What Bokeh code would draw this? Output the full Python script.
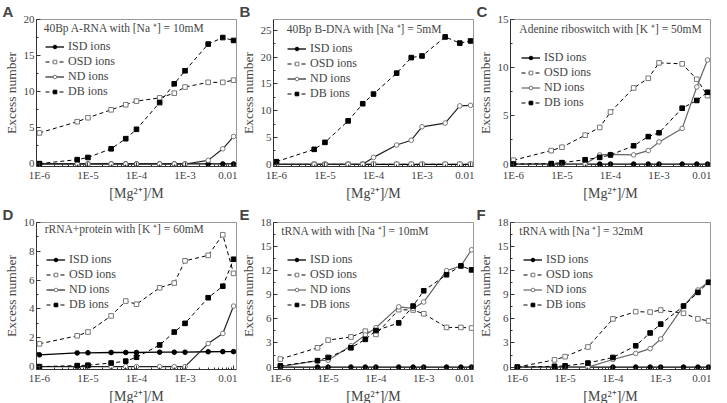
from bokeh.plotting import figure
from bokeh.models import FixedTicker, Range1d, Label, Legend, CustomJSTickFormatter
from bokeh.layouts import column, row
from bokeh.embed import file_html
from bokeh.resources import INLINE

# ---- data ----
mg = [1e-6, 6e-6, 1e-5, 3e-5, 6e-5, 1e-4, 3e-4, 6e-4, 1e-3, 3e-3, 6e-3, 1e-2]
mg_f = [1e-6, 6e-6, 1e-5, 3e-5, 1e-4, 3e-4, 6e-4, 1e-3, 3e-3, 6e-3, 1e-2]
xticks = [1e-6, 1e-5, 1e-4, 1e-3, 1e-2]
xtick_labels = ["1E-6", "1E-5", "1E-4", "1E-3", "0.01"]

a_isd = [0, 0, 0, 0, 0, 0, 0, 0, 0, 0, 0, 0]
a_osd = [4.3, 5.85, 6.4, 7.5, 8.2, 8.7, 9.15, 9.8, 10.65, 11.3, 11.3, 11.6]
a_nd = [0, 0, 0, 0, 0, 0, 0, 0, 0, 0.5, 2.1, 3.8]
a_db = [0.05, 0.6, 0.9, 2.1, 3.5, 4.8, 8.5, 11.1, 12.9, 16.6, 17.5, 17.1]

b_isd = [0, 0, 0, 0, 0, 0, 0, 0, 0, 0, 0, 0]
b_osd = [0, 0, 0, 0, 0, 0, 0, 0, 0, 0, 0, 0]
b_nd = [0, 0, 0, 0, 0, 1.3, 3.6, 4.5, 7.0, 7.7, 10.9, 11.0]
b_db = [0.5, 2.8, 4.1, 8.1, 11.3, 13.1, 17.0, 19.9, 20.2, 23.75, 22.6, 23.0]

c_isd = [0, 0, 0, 0, 0, 0, 0, 0, 0, 0, 0, 0]
c_osd = [0.4, 1.4, 1.75, 3.0, 3.8, 5.4, 7.9, 8.9, 10.5, 10.4, 8.8, 7.1]
c_nd = [0, 0, 0, 0, 0.95, 1.0, 0.95, 1.4, 2.3, 3.7, 8.0, 10.8]
c_db = [0, 0.05, 0.15, 0.45, 0.7, 0.95, 1.9, 2.85, 3.25, 5.8, 6.6, 7.45]

d_isd = [0.82, 0.95, 0.96, 0.98, 0.98, 0.98, 1.0, 1.0, 1.0, 1.03, 1.04, 1.04]
d_osd = [1.58, 2.14, 2.4, 3.52, 4.55, 4.33, 5.47, 5.8, 7.34, 7.72, 9.15, 6.47]
d_nd = [0, 0, 0, 0, 0, 0, 0, 0, 0, 1.6, 2.3, 4.2]
d_db = [0, 0.07, 0.1, 0.25, 0.38, 0.65, 1.5, 2.4, 3.0, 4.78, 5.58, 7.45]

e_isd = [0, 0, 0, 0, 0, 0, 0, 0, 0, 0, 0, 0]
e_osd = [1.0, 2.4, 3.36, 3.75, 4.47, 4.07, 7.15, 7.1, 6.64, 4.94, 4.94, 4.86]
e_nd = [0.05, 0.8, 0.85, 2.65, 4.0, 4.9, 7.5, 7.3, 8.1, 12.0, 12.6, 14.6]
e_db = [0.15, 0.8, 1.2, 2.4, 3.45, 4.55, 5.5, 7.6, 9.5, 11.5, 12.6, 12.1]

f_isd = [0, 0, 0, 0, 0, 0, 0, 0, 0, 0, 0]
f_osd = [0.0, 0.9, 1.3, 2.5, 6.0, 6.9, 6.85, 7.1, 6.7, 6.0, 5.75]
f_nd = [0, 0, 0, 0, 0.95, 1.7, 2.3, 3.5, 7.6, 9.6, 10.6]
f_db = [0, 0.1, 0.15, 0.5, 1.2, 2.65, 4.25, 5.35, 7.6, 9.3, 10.55]

SERIF = "Liberation Serif"
FW, FH = 200, 147
xminor = [m * 10.0 ** e for e in range(-6, -2) for m in range(2, 10)]


def panel(letter, note, x, isd, osd, nd, db, xr, yr, yt, nd_color,
          note_x, note_y, leg_x, leg_top):
    p = figure(x_axis_type="log", frame_width=FW, frame_height=FH,
               min_border_left=36, min_border_right=1, min_border_top=12,
               min_border_bottom=34, x_range=Range1d(*xr), y_range=Range1d(*yr),
               output_backend="svg", toolbar_location=None, title=letter)
    p.title.text_font = "Liberation Sans"
    p.title.text_font_style = "bold"
    p.title.text_font_size = "15px"
    p.title.offset = -34
    p.title.standoff = 0
    p.xgrid.visible = False
    p.ygrid.visible = False
    p.outline_line_color = "#999999"
    p.background_fill_color = "white"

    ms = 4.6
    r1l = p.line(x, isd, line_color="black", line_width=1.3)
    r1s = p.scatter(x, isd, marker="circle", size=ms, fill_color="black", line_color="black")
    r2l = p.line(x, osd, line_color="black", line_dash="4 3", line_width=1)
    r2s = p.scatter(x, osd, marker="square", size=ms, fill_color="white", line_color="#777777")
    r3l = p.line(x, nd, line_color=nd_color, line_width=1.2)
    r3s = p.scatter(x, nd, marker="circle", size=ms, fill_color="white", line_color="#777777")
    r4l = p.line(x, db, line_color="black", line_dash="4 3", line_width=1)
    r4s = p.scatter(x, db, marker="square", size=ms, fill_color="black", line_color="black")

    leg = Legend(items=[("ISD ions", [r1l, r1s]), ("OSD ions", [r2l, r2s]),
                        ("ND ions", [r3l, r3s]), ("DB ions", [r4l, r4s])],
                 location=(leg_x, FH - leg_top - 56))
    leg.background_fill_alpha = 0
    leg.border_line_alpha = 0
    leg.padding = 0
    leg.margin = 0
    leg.spacing = 0
    leg.label_height = 14
    leg.glyph_height = 9
    leg.glyph_width = 19
    leg.label_standoff = 4
    leg.label_text_font = SERIF
    leg.label_text_font_size = "12px"
    p.add_layout(leg)

    p.add_layout(Label(x=note_x, y=note_y, text=note, text_align="center",
                       text_baseline="middle", text_font=SERIF, text_font_size="11.5px"))

    for ax in (p.xaxis[0], p.yaxis[0]):
        ax.axis_line_color = "#333333"
        ax.major_tick_line_color = "#333333"
        ax.minor_tick_line_color = "#333333"
        ax.major_tick_in = 4
        ax.major_tick_out = 0
        ax.minor_tick_in = 2
        ax.minor_tick_out = 0
        ax.major_label_text_font = SERIF
        ax.major_label_text_font_size = "11px"
        ax.major_label_standoff = 2
        ax.axis_label_text_font = SERIF
        ax.axis_label_text_font_style = "normal"
        ax.axis_label_standoff = 2

    p.xaxis[0].ticker = FixedTicker(ticks=xticks, minor_ticks=xminor)
    p.xaxis[0].formatter = CustomJSTickFormatter(
        args=dict(t=xticks, l=xtick_labels),
        code="""
        let best = 0, bd = 1e9;
        for (let i = 0; i < t.length; i++) {
            const d = Math.abs(Math.log10(tick) - Math.log10(t[i]));
            if (d < bd) { bd = d; best = i; }
        }
        return l[best];
        """)
    p.xaxis[0].axis_label = "[Mg²⁺]/M"
    p.xaxis[0].axis_label_text_font_size = "14px"

    step = yt[1] - yt[0]
    p.yaxis[0].ticker = FixedTicker(ticks=yt, minor_ticks=[v + step / 2 for v in yt[:-1]])
    p.yaxis[0].axis_label = "Excess number"
    p.yaxis[0].axis_label_text_font_size = "13.5px"
    return p


XR1 = (8.7e-7, 1.15e-2)
XR2 = (7.2e-7, 1.1e-2)
DARK = "#222222"
GRAY = "#666666"

pa = panel("A", "40Bp A-RNA with [Na ⁺] = 10mM", mg, a_isd, a_osd, a_nd, a_db,
           XR1, (-0.35, 20), [0, 5, 10, 15, 20], DARK, 5.6e-5, 18.8, 9, 24)
pb = panel("B", "40Bp B-DNA with [Na ⁺] = 5mM", mg, b_isd, b_osd, b_nd, b_db,
           XR1, (-0.4, 27), [0, 5, 10, 15, 20, 25], DARK, 6.5e-5, 25.2, 14, 26)
pc = panel("C", "Adenine riboswitch with [K ⁺] = 50mM", mg, c_isd, c_osd, c_nd, c_db,
           XR1, (-0.25, 15), [0, 5, 10, 15], GRAY, 1e-4, 14.0, 11, 35)
pd = panel("D", "rRNA+protein with [K ⁺] = 60mM", mg, d_isd, d_osd, d_nd, d_db,
           XR1, (-0.2, 10), [0, 2, 4, 6, 8, 10], DARK, 5.6e-5, 9.53, 10, 34)
pe = panel("E", "tRNA with with [Na ⁺] = 10mM", mg, e_isd, e_osd, e_nd, e_db,
           XR2, (-0.3, 18), [0, 3, 6, 9, 12, 15, 18], GRAY, 3.7e-5, 16.9, 14, 34)
pf = panel("F", "tRNA with [Na ⁺] = 32mM", mg_f, f_isd, f_osd, f_nd, f_db,
           XR2, (-0.3, 18), [0, 3, 6, 9, 12, 15, 18], GRAY, 2.2e-5, 16.9, 13, 34)

layout = column(row(pa, pb, pc), row(pd, pe, pf))
open("out.html", "w").write(file_html(layout, INLINE))
